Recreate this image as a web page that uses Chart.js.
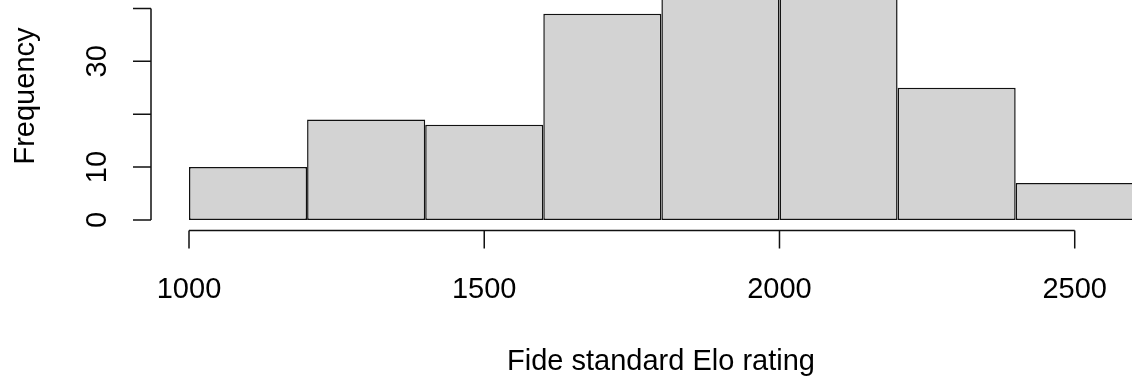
<!DOCTYPE html>
<html>
<head>
<meta charset="utf-8">
<script src="https://cdn.jsdelivr.net/npm/chart.js@4/dist/chart.umd.min.js"></script>
<style>
  html, body { margin: 0; padding: 0; background: #fff; }
  canvas { display: block; }
</style>
</head>
<body>
<canvas id="hist" width="1132" height="381"></canvas>
<script>
// Histogram bins (mid points) and counts
const binMids = [1100, 1300, 1500, 1700, 1900, 2100, 2300, 2500];
const counts = [10, 19, 18, 39, 47, 45, 25, 7];

const xTicks = [1000, 1500, 2000, 2500];
const xTickLabels = ["1000", "1500", "2000", "2500"];
const yTicks = [0, 10, 20, 30, 40];
const yTickLabels = ["0", "10", "", "30", ""];

const xTitle = "Fide standard Elo rating";
const yTitle = "Frequency";

const FONT = '29px "Liberation Sans", Arial, sans-serif';
const INK = "#111";

// R style axes, drawn off the chart scales
const rAxes = {
    id: "rAxes",
    afterDraw(chart) {
        const { ctx, chartArea, scales: { x, y } } = chart;
        ctx.save();
        ctx.strokeStyle = INK;
        ctx.fillStyle = "#000";
        ctx.lineWidth = 1.5;
        ctx.font = FONT;

        // y axis
        const ax = chartArea.left - 38;
        ctx.beginPath();
        ctx.moveTo(ax, y.getPixelForValue(yTicks[0]));
        ctx.lineTo(ax, y.getPixelForValue(yTicks[yTicks.length - 1]));
        yTicks.forEach(v => {
            const py = y.getPixelForValue(v);
            ctx.moveTo(ax, py);
            ctx.lineTo(ax - 18, py);
        });
        ctx.stroke();
        ctx.textAlign = "center";
        ctx.textBaseline = "middle";
        yTicks.forEach((v, i) => {
            if (!yTickLabels[i]) return;
            ctx.save();
            ctx.translate(97, y.getPixelForValue(v));
            ctx.rotate(-Math.PI / 2);
            ctx.fillText(yTickLabels[i], 0, 1);
            ctx.restore();
        });

        // x axis
        const ay = chartArea.bottom + 10.5;
        ctx.beginPath();
        ctx.moveTo(x.getPixelForValue(xTicks[0]), ay);
        ctx.lineTo(x.getPixelForValue(xTicks[xTicks.length - 1]), ay);
        xTicks.forEach(v => {
            const px = x.getPixelForValue(v);
            ctx.moveTo(px, ay);
            ctx.lineTo(px, ay + 18);
        });
        ctx.stroke();
        ctx.textBaseline = "alphabetic";
        xTicks.forEach((v, i) => {
            ctx.fillText(xTickLabels[i], x.getPixelForValue(v), 298);
        });

        // titles
        ctx.fillText(xTitle, 661, 370);
        ctx.save();
        ctx.translate(34, 96);
        ctx.rotate(-Math.PI / 2);
        ctx.fillText(yTitle, 0, 0);
        ctx.restore();
        ctx.restore();
    }
};

new Chart(document.getElementById("hist"), {
    type: "bar",
    data: {
        datasets: [{
            data: binMids.map((m, i) => ({ x: m, y: counts[i] })),
            backgroundColor: "#d3d3d3",
            borderColor: INK,
            borderWidth: 1.5,
            borderSkipped: false,
            inflateAmount: 0,
            barPercentage: 1,
            categoryPercentage: 1
        }]
    },
    options: {
        responsive: false,
        animation: false,
        events: [],
        layout: { padding: { left: 189, right: 0, top: 0, bottom: 161 } },
        plugins: { legend: { display: false }, tooltip: { enabled: false } },
        scales: {
            x: {
                type: "linear", min: 1000, max: 2597, offset: false, display: false,
                // keep hidden ticks wide apart so bars fill their whole bin
                afterBuildTicks: s => { s.ticks = xTicks.map(v => ({ value: v })); }
            },
            y: { min: 0, max: 41.6, display: false }
        }
    },
    plugins: [rAxes]
});
</script>
</body>
</html>
